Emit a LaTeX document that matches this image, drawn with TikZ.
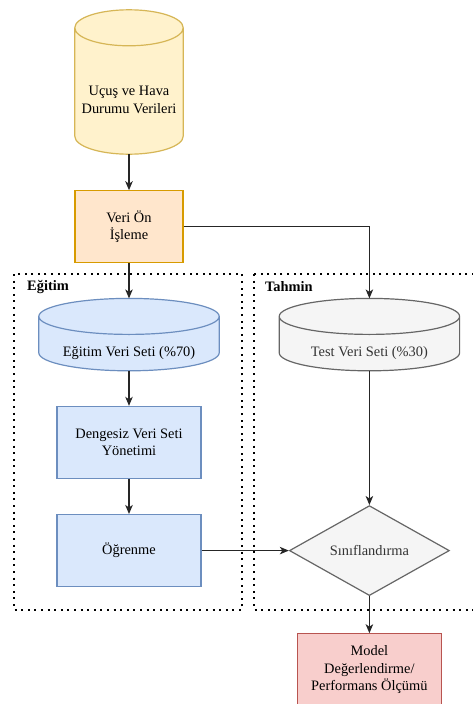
\documentclass[tikz,border=0pt]{standalone}
\usepackage{fontspec}
\setmainfont{Liberation Serif}
\usepackage{tikz}
\usetikzlibrary{arrows.meta,positioning,calc,backgrounds,shapes.geometric}

\definecolor{yelfill}{HTML}{FFF2CC}
\definecolor{yelline}{HTML}{D6B656}
\definecolor{orgfill}{HTML}{FFE6CC}
\definecolor{orgline}{HTML}{D79B00}
\definecolor{bluefill}{HTML}{DAE8FC}
\definecolor{blueline}{HTML}{6C8EBF}
\definecolor{grayfill}{HTML}{F5F5F5}
\definecolor{grayline}{HTML}{666666}
\definecolor{graytext}{HTML}{333333}
\definecolor{redfill}{HTML}{F8CECC}
\definecolor{redline}{HTML}{B85450}

% drum shape drawn round a named node (text area below the top ellipse)
\newcommand{\dbdrum}[3]{%
  \path[draw=#3,fill=#2,line width=1.2pt]
    let \p1=(#1.north west), \p2=(#1.south east), \n1={(\x2-\x1)/2} in
    (\x1,\y1+18pt) -- (\x1,\y2+18pt)
    arc[start angle=180,end angle=360,x radius=\n1,y radius=18pt]
    -- (\x2,\y1+18pt)
    arc[start angle=0,end angle=180,x radius=\n1,y radius=18pt] -- cycle
    (\x1,\y1+18pt) arc[start angle=180,end angle=360,x radius=\n1,y radius=18pt];
}

\begin{document}
\begin{tikzpicture}[x=1pt,y=1pt,node distance=35pt,
		every node/.style={font=\fontsize{14.4}{17.5}\selectfont},
		proc box/.style={rectangle,draw,line width=1.2pt,minimum width=144pt,
			minimum height=72pt,align=center,inner sep=2pt},
		drum body/.style={rectangle,minimum width=180pt,minimum height=36pt,
			align=center,inner sep=0pt},
		decision/.style={diamond,draw=grayline,fill=grayfill,text=graytext,
			line width=1.2pt,aspect=1.8,inner sep=1pt,minimum width=160pt,minimum height=90pt},
		flow/.style={-{Stealth[length=9pt,width=7.5pt,inset=2.5pt]},line width=1.2pt,draw=black!85},
		frame/.style={line width=2pt,dash pattern=on 2pt off 4.6pt},
		tag/.style={font=\fontsize{14.4}{17.5}\selectfont\bfseries,anchor=west,inner sep=0pt}]
	
	\useasboundingbox (0,0) rectangle (472,-704);
	
	\node[drum body,minimum width=108pt,minimum height=108pt] (ucus) at (129,-100) {Uçuş ve Hava\\Durumu Verileri};
	\node[proc box,fill=orgfill,draw=orgline,minimum width=108pt] (verion) [below=36pt of ucus] {Veri Ön\\İşleme};
	\node[drum body] (egitim) [below=71pt of verion] {Eğitim Veri Seti (\%70)};
	\node[drum body,text=graytext] (test) [right=60pt of egitim] {Test Veri Seti (\%30)};
	\node[proc box,fill=bluefill,draw=blueline] (denge) [below=of egitim] {Dengesiz Veri Seti\\Yönetimi};
	\node[proc box,fill=bluefill,draw=blueline] (ogren) [below=of denge] {Öğrenme};
	\node[decision] (sinif) at (test |- ogren) {Sınıflandırma};
	\node[proc box,fill=redfill,draw=redline] (model) [below=37pt of sinif] {Model\\Değerlendirme/\\Performans Ölçümü};
	
	\begin{scope}[on background layer]
		\fill[white] (0,0) rectangle (472,-704);
		\dbdrum{ucus}{yelfill}{yelline}
		\dbdrum{egitim}{bluefill}{blueline}
		\dbdrum{test}{grayfill}{grayline}
	\end{scope}
	
	% dotted groups
	\draw[frame] (14,-274) rectangle (242,-610);
	\draw[frame] (254,-274) rectangle (480,-610);
	\node[tag] (egtag) at (27,-287) {Eğitim};
	\node[tag] (thtag) at (265,-287) {Tahmin};
	
	\draw[flow] (ucus.south) -- (verion.north);
	\draw[flow] (verion.south) -- ([yshift=36pt]egitim.north);
	\draw[flow] (verion.east) -| ([yshift=36pt]test.north);
	\draw[flow] (egitim.south) -- (denge.north);
	\draw[flow] (denge) -- (ogren);
	\draw[flow] (ogren) -- (sinif);
	\draw[flow] (test.south) -- (sinif.north);
	\draw[flow] (sinif) -- (model);
\end{tikzpicture}
\end{document}
